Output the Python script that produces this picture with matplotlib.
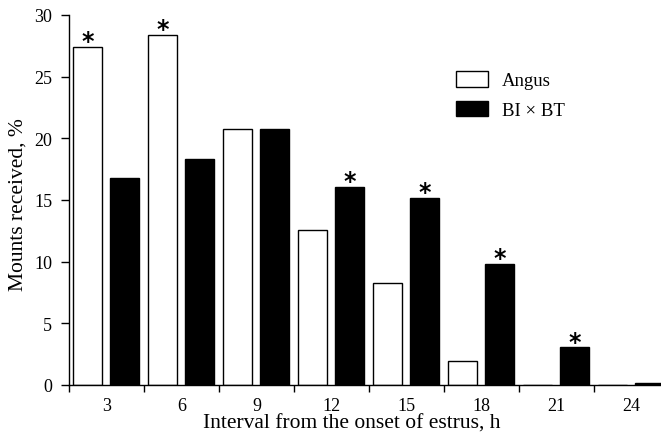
import numpy as np
import matplotlib.pyplot as plt
from matplotlib.ticker import FixedLocator

plt.rcParams['font.family'] = ['Liberation Serif', 'DejaVu Serif']

# data
intervals = ["3", "6", "9", "12", "15", "18", "21", "24"]
angus = [27.4, 28.4, 20.75, 12.6, 8.3, 1.95, 0.0, 0.0]
bibt = [16.8, 18.3, 20.75, 16.05, 15.2, 9.85, 3.05, 0.2]
angus_star = [True, True, False, False, False, False, False, False]
bibt_star = [False, False, False, True, True, True, True, False]

fig = plt.figure(figsize=(6.61, 4.35), dpi=100)
ax = fig.add_axes([69/661, 49/435, 592/661, 370/435])

x = np.arange(len(intervals))
w = 0.387
off = 0.247
ax.bar(x - off, angus, w, color="white", edgecolor="black", linewidth=1, label="Angus")
ax.bar(x + off - 0.007, bibt, w, color="black", edgecolor="black", linewidth=1, label="BI \u00d7 BT")

# significance marks
for xi, v, s in zip(x - off, angus, angus_star):
    if s:
        ax.annotate("*", (xi, v), xytext=(0, -4.5), textcoords="offset points",
                    ha="center", va="bottom", fontsize=17, fontweight="bold", family="DejaVu Sans")
for xi, v, s in zip(x + off - 0.007, bibt, bibt_star):
    if s:
        ax.annotate("*", (xi, v), xytext=(0, -4.5), textcoords="offset points",
                    ha="center", va="bottom", fontsize=17, fontweight="bold", family="DejaVu Sans")

ax.set_xlim(-0.5, -0.5 + 592/75)
ax.set_ylim(0, 30)
ax.set_yticks([0, 5, 10, 15, 20, 25, 30])
ax.set_xticks(x)
ax.set_xticklabels(intervals)
ax.xaxis.set_minor_locator(FixedLocator(np.arange(-0.5, 8.5, 1)))
ax.tick_params(axis="x", which="major", length=0, labelsize=13, pad=9)
ax.tick_params(axis="x", which="minor", length=5, direction="out", width=1)
ax.tick_params(axis="y", length=6, direction="out", width=1, labelsize=13, pad=6)

ax.spines["top"].set_visible(False)
ax.spines["right"].set_visible(False)
ax.spines["left"].set_linewidth(1)
ax.spines["bottom"].set_linewidth(1)

ax.set_xlabel("Interval from the onset of estrus, h", fontsize=15.5)
ax.set_ylabel("Mounts received, %", fontsize=15.5)
ax.xaxis.set_label_coords(0.478, -0.078)
ax.yaxis.set_label_coords(-0.07, 0.49)

ax.legend(loc="upper left", bbox_to_anchor=(456/661, 1 - 72/435), bbox_transform=fig.transFigure,
          frameon=False, fontsize=13.5, borderpad=0, borderaxespad=0,
          handlelength=1.7, handleheight=0.9, labelspacing=0.6, handletextpad=0.75)

plt.savefig("out.png", dpi=100)
